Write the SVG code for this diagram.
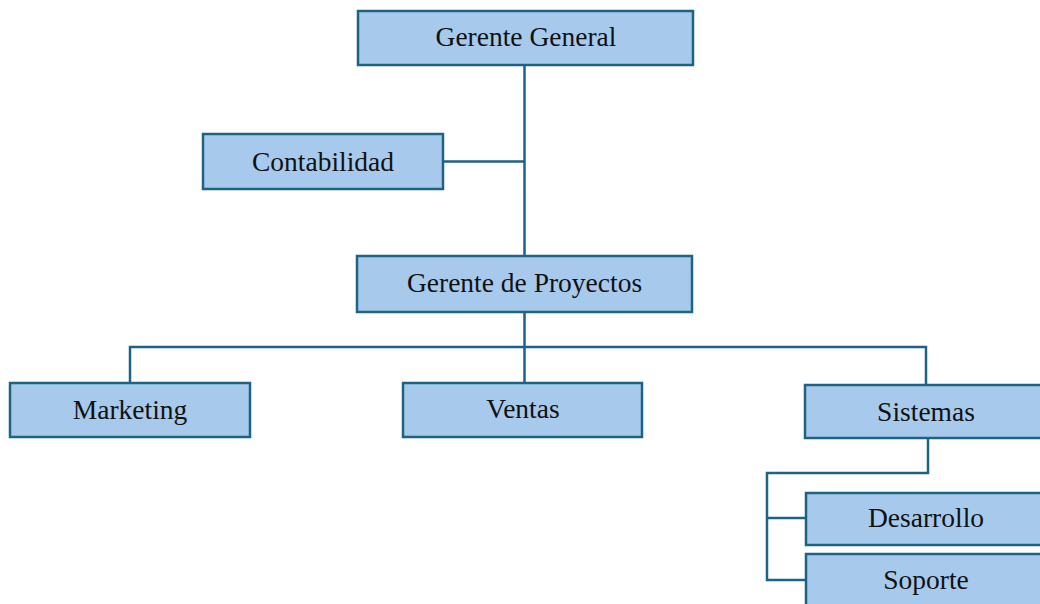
<svg xmlns="http://www.w3.org/2000/svg" width="1040" height="604" viewBox="0 0 1040 604">
<style>
.box{fill:#a7caec;stroke:#1e6385;stroke-width:2.5}
.lbl{font-family:"Liberation Serif","Times New Roman",serif;font-size:27.5px;fill:#111;text-anchor:middle}
.ln{fill:none;stroke:#1e6385;stroke-width:2.5}
</style>
<rect width="1040" height="604" fill="#fff"/>
<g id="connectors">
<path class="ln" d="M524.5 65V256"/>
<path class="ln" d="M443 161.5H524.5"/>
<path class="ln" d="M524.5 312V383"/>
<path class="ln" d="M130 383V347H926V385"/>
<path class="ln" d="M928 438V473H767V580H806"/>
<path class="ln" d="M767 518H806"/>
</g>
<g id="n-gerente-general"><rect class="box" x="358" y="11" width="335" height="54"/><text class="lbl" x="526" y="46">Gerente General</text></g>
<g id="n-contabilidad"><rect class="box" x="203" y="134" width="240" height="55"/><text class="lbl" x="323" y="171">Contabilidad</text></g>
<g id="n-gerente-proyectos"><rect class="box" x="357" y="256" width="335" height="56"/><text class="lbl" x="524.5" y="292">Gerente de Proyectos</text></g>
<g id="n-marketing"><rect class="box" x="10" y="383" width="240" height="54"/><text class="lbl" x="130" y="419">Marketing</text></g>
<g id="n-ventas"><rect class="box" x="403" y="383" width="239" height="54"/><text class="lbl" x="523" y="418">Ventas</text></g>
<g id="n-sistemas"><rect class="box" x="805" y="385" width="245" height="53"/><text class="lbl" x="926" y="421">Sistemas</text></g>
<g id="n-desarrollo"><rect class="box" x="806" y="493" width="244" height="52"/><text class="lbl" x="926" y="527">Desarrollo</text></g>
<g id="n-soporte"><rect class="box" x="806" y="554" width="244" height="60"/><text class="lbl" x="926" y="589">Soporte</text></g>
</svg>
